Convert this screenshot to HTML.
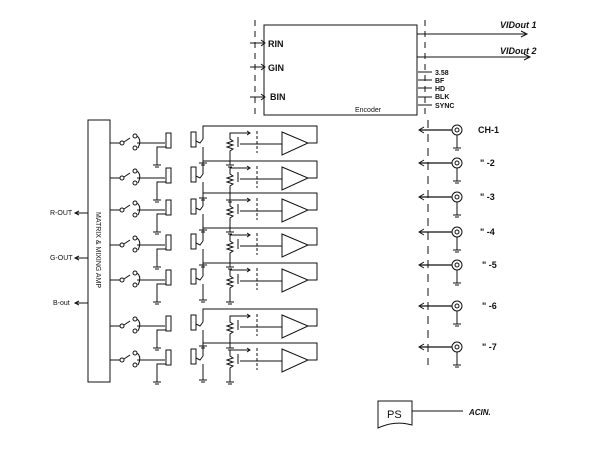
<!DOCTYPE html><html><head><style>body{margin:0;background:#fff}svg{display:block}text{font-family:"Liberation Sans",sans-serif;fill:#111}</style></head><body>
<svg width="600" height="456" viewBox="0 0 600 456" xmlns="http://www.w3.org/2000/svg" stroke="#111" fill="none" stroke-width="1">
<defs>
<g id="gnd"><line x1="0" y1="0" x2="0" y2="8"/><line x1="-4" y1="8" x2="4" y2="8"/><line x1="-2" y1="10" x2="2" y2="10"/></g>
<g id="ch">
<line x1="110" y1="0" x2="120" y2="0"/>
<circle cx="122" cy="0" r="2"/>
<line x1="124" y1="-1" x2="130" y2="-5"/>
<circle cx="135" cy="-7" r="2"/><circle cx="135" cy="5" r="2"/>
<path d="M137 -7 Q142 -3 138 5"/>
<line x1="137" y1="0" x2="165" y2="0"/>
<rect x="166" y="-10" width="5" height="15"/>
<path d="M157 18 V4 H166"/>
<use href="#gnd" x="157" y="14"/>
<rect x="191" y="-11" width="5" height="15"/>
<path d="M196 -2 L200 0 L203 -4"/>
<path d="M203 4 V12"/>
<use href="#gnd" x="203" y="12"/>
<path d="M203 -4 V-17 H317 V0 H308"/>
<path d="M282 -11 L308 0 L282 12 Z"/>
<line x1="240" y1="1" x2="282" y2="1"/>
<path d="M230 -8 V-4 l3 2 l-6 2 l6 2 l-6 2 l6 2 l-3 2 V14"/>
<use href="#gnd" x="230" y="14"/>
<line x1="238" y1="-6" x2="238" y2="4"/>
<path d="M230 -8 V-10 H250"/><path d="M247 -12 L250 -10 L247 -8"/>
<line x1="257" y1="-12" x2="257" y2="10" stroke-dasharray="3,2"/>
</g>
<g id="jack"><line x1="420" y1="0" x2="452" y2="0" stroke-width="1.3"/><path d="M424 -3 L419 0 L424 3"/><circle cx="457" cy="0" r="5"/><circle cx="457" cy="0" r="2"/><line x1="457" y1="5" x2="457" y2="10"/><use href="#gnd" x="457" y="10"/></g>
</defs>
<rect x="264" y="25" width="153" height="90"/>
<text x="355" y="112" font-size="7" stroke="none">Encoder</text>
<line x1="250" y1="43" x2="265" y2="43"/><path d="M261 40 L265 43 L261 46"/>
<line x1="250" y1="67" x2="265" y2="67"/><path d="M261 64 L265 67 L261 70"/>
<line x1="250" y1="97" x2="265" y2="97"/><path d="M261 94 L265 97 L261 100"/>
<line x1="255" y1="20" x2="255" y2="115" stroke-dasharray="6,5"/>
<text x="268" y="47" font-size="9" stroke="none" font-weight="bold">RIN</text>
<text x="268" y="71" font-size="9" stroke="none" font-weight="bold">GIN</text>
<text x="270" y="100" font-size="9" stroke="none" font-weight="bold">BIN</text>
<line x1="417" y1="34" x2="527" y2="34"/><path d="M521 31 L527 34 L521 37"/>
<line x1="417" y1="57" x2="530" y2="57"/><path d="M524 54 L530 57 L524 60"/>
<text x="500" y="28" font-size="9" stroke="none" font-style="italic" font-weight="bold">VIDout 1</text>
<text x="500" y="54" font-size="9" stroke="none" font-style="italic" font-weight="bold">VIDout 2</text>
<line x1="425" y1="20" x2="425" y2="118" stroke-dasharray="6,5"/>
<g font-size="7" stroke="none" font-weight="bold"><text x="435" y="75">3.58</text><text x="435" y="83">BF</text><text x="435" y="91">HD</text><text x="435" y="99">BLK</text><text x="435" y="108">SYNC</text></g>
<g><line x1="418" y1="72" x2="432" y2="72"/><line x1="418" y1="80" x2="432" y2="80"/><line x1="418" y1="88" x2="432" y2="88"/><line x1="418" y1="97" x2="432" y2="97"/><line x1="418" y1="105" x2="432" y2="105"/></g>
<rect x="88" y="120" width="22" height="262"/>
<text transform="translate(96,212) rotate(90)" font-size="7" stroke="none">MATRIX &amp; MIXING AMP</text>
<line x1="75" y1="213" x2="88" y2="213"/><path d="M79 211 L75 213 L79 215"/>
<line x1="75" y1="258" x2="88" y2="258"/><path d="M79 256 L75 258 L79 260"/>
<line x1="75" y1="303" x2="88" y2="303"/><path d="M79 301 L75 303 L79 305"/>
<g font-size="7" stroke="none"><text x="50" y="215">R-OUT</text><text x="50" y="260">G-OUT</text><text x="53" y="305">B-out</text></g>
<use href="#ch" y="143"/><use href="#ch" y="178"/><use href="#ch" y="210"/><use href="#ch" y="245"/><use href="#ch" y="280"/><use href="#ch" y="326"/><use href="#ch" y="360"/>
<line x1="428" y1="120" x2="428" y2="365" stroke-dasharray="8,6"/>
<use href="#jack" y="130"/><use href="#jack" y="163"/><use href="#jack" y="197"/><use href="#jack" y="232"/><use href="#jack" y="265"/><use href="#jack" y="306"/><use href="#jack" y="347"/>
<g font-size="9" stroke="none" font-weight="bold"><text x="478" y="133">CH-1</text><text x="480" y="166">" -2</text><text x="480" y="200">" -3</text><text x="480" y="235">" -4</text><text x="482" y="268">" -5</text><text x="482" y="309">" -6</text><text x="482" y="350">" -7</text></g>
<path d="M378 401 H412 V425 Q395 420 378 428 Z"/>
<text x="387" y="418" font-size="11" stroke="none">PS</text>
<line x1="412" y1="411" x2="463" y2="411"/>
<text x="469" y="415" font-size="8" stroke="none" font-weight="bold" font-style="italic">ACIN.</text>
</svg></body></html>
